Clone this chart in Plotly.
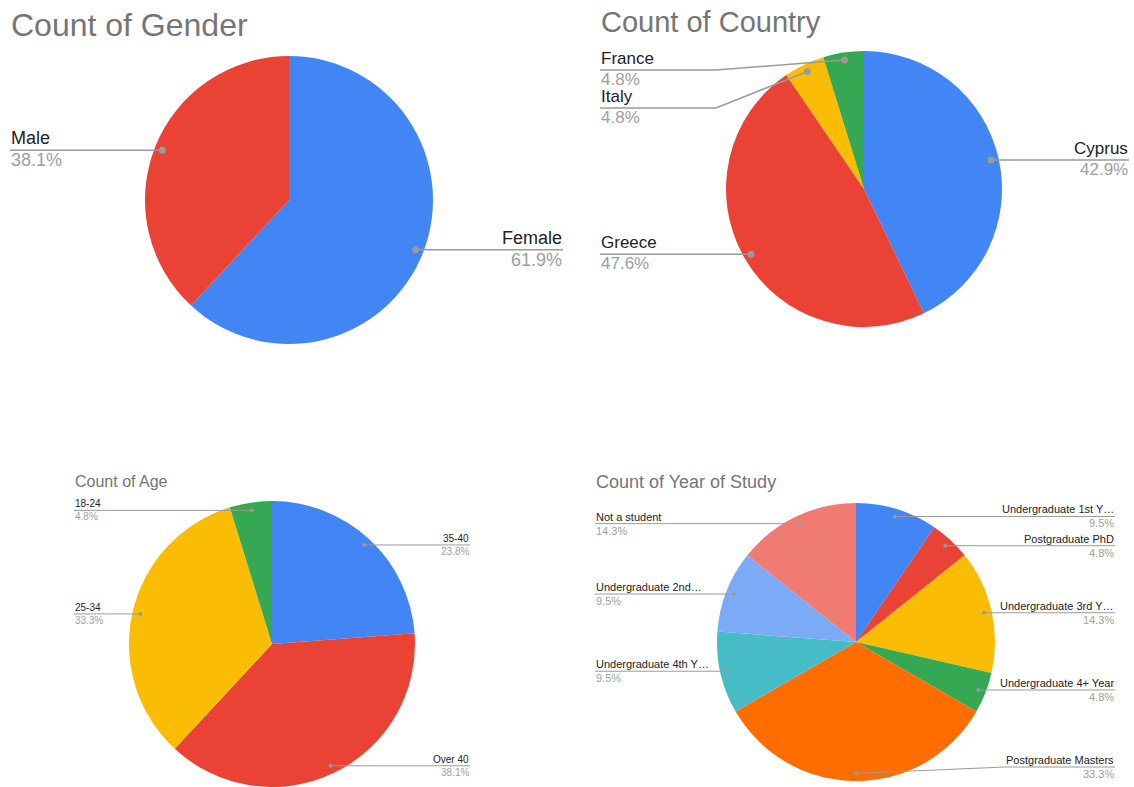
import math
import plotly.graph_objects as go

W, H = 1134, 787

# ---------------- data ----------------
gender_labels = ["Female", "Male"]
gender_values = [13, 8]

country_labels = ["Cyprus", "Greece", "Italy", "France"]
country_values = [9, 10, 1, 1]

age_labels = ["35-40", "Over 40", "25-34", "18-24"]
age_values = [5, 8, 7, 1]

year_labels = ["Undergraduate 1st Y…", "Postgraduate PhD", "Undergraduate 3rd Y…",
               "Undergraduate 4+ Year", "Postgraduate Masters", "Undergraduate 4th Y…",
               "Undergraduate 2nd…", "Not a student"]
year_values = [2, 1, 3, 1, 7, 2, 2, 3]

BLUE, RED, YELLOW, GREEN = "#4285F4", "#EA4335", "#FBBC04", "#34A853"
ORANGE, TEAL, LBLUE, SALMON = "#FF6D01", "#46BDC6", "#7BAAF7", "#F07B72"

FONT = "Arial, Liberation Sans, sans-serif"
TITLE_C = "#757575"
NAME_C = "#222222"
PCT_C = "#9e9e9e"
LINE_C = "#9a9a9a"

charts = [
    dict(title="Count of Gender", labels=gender_labels, values=gender_values,
         colors=[BLUE, RED], cx=289, cy=200, r=144, tx=9, ty=25, tsize=32,
         lsize=18, left=10, right=563, ymin=70, ymax=330, gap=40, dot=3.5, lw=1.5,
         off=1, poff=-1),
    dict(title="Count of Country", labels=country_labels, values=country_values,
         colors=[BLUE, RED, YELLOW, GREEN], cx=864, cy=189, r=138, tx=599, ty=22, tsize=29,
         lsize=17, left=600, right=1129, ymin=70, ymax=320, gap=38, dot=3.5, lw=1.5,
         off=1, poff=-1),
    dict(title="Count of Age", labels=age_labels, values=age_values,
         colors=[BLUE, RED, YELLOW, GREEN], cx=272, cy=644, r=143, tx=73, ty=481, tsize=16,
         lsize=10, left=74, right=470, ymin=508, ymax=767, gap=24, dot=2, lw=1,
         off=0, poff=0),
    dict(title="Count of Year of Study", labels=year_labels, values=year_values,
         colors=[BLUE, RED, YELLOW, GREEN, ORANGE, TEAL, LBLUE, SALMON],
         cx=856, cy=642, r=139, tx=594, ty=482, tsize=18,
         lsize=11, left=595, right=1115, ymin=510, ymax=767, gap=26, dot=2, lw=1,
         off=0, poff=0),
]

fig = go.Figure()
annotations = []
shapes = []


def place(items, gap, ymin, ymax):
    items.sort(key=lambda d: d["py"])
    prev = None
    for it in items:
        y = max(it["py"], ymin)
        if prev is not None:
            y = max(y, prev + gap)
        it["ly"] = y
        prev = y
    nxt = None
    for it in reversed(items):
        y = min(it["ly"], ymax)
        if nxt is not None:
            y = min(y, nxt - gap)
        it["ly"] = y
        nxt = y


for c in charts:
    cx, cy, r = c["cx"], c["cy"], c["r"]
    fig.add_trace(go.Pie(
        labels=c["labels"], values=c["values"], sort=False, direction="clockwise",
        rotation=0, textinfo="none", hoverinfo="label+percent",
        marker=dict(colors=c["colors"], line=dict(width=0)),
        domain=dict(x=[(cx - r) / W, (cx + r) / W],
                    y=[max(0, 1 - (cy + r) / H), min(1, 1 - (cy - r) / H)]),
        showlegend=False,
    ))
    annotations.append(dict(x=c["tx"], y=c["ty"], xref="x", yref="y", text=c["title"],
                            showarrow=False, xanchor="left", yanchor="middle",
                            font=dict(family=FONT, size=c["tsize"], color=TITLE_C)))
    total = sum(c["values"])
    cum = 0
    left_items, right_items = [], []
    d = 0.945 * r
    for lab, v in zip(c["labels"], c["values"]):
        mid = (cum + v / 2) / total * 2 * math.pi
        cum += v
        px = cx + d * math.sin(mid)
        py = cy - d * math.cos(mid)
        it = dict(lab=lab, pct=f"{v / total * 100:.1f}%", px=px, py=py)
        (right_items if math.sin(mid) > -1e-6 else left_items).append(it)
    for side, items in (("left", left_items), ("right", right_items)):
        place(items, c["gap"], c["ymin"], c["ymax"])
        for it in items:
            edge = c["left"] if side == "left" else c["right"]
            bend = cx - r - 10 if side == "left" else cx + r + 10
            ly = it["ly"]
            if abs(ly - it["py"]) < 0.5:
                path = f"M {it['px']},{ly} L {edge},{ly}"
            else:
                path = f"M {it['px']},{it['py']} L {bend},{ly} L {edge},{ly}"
            shapes.append(dict(type="path", path=path, xref="x", yref="y", layer="above",
                               line=dict(color=LINE_C, width=c["lw"])))
            dr = c["dot"]
            shapes.append(dict(type="circle", xref="x", yref="y", layer="above",
                               x0=it["px"] - dr, x1=it["px"] + dr,
                               y0=it["py"] - dr, y1=it["py"] + dr,
                               fillcolor=LINE_C, line=dict(width=0)))
            annotations.append(dict(x=edge, y=ly - c["off"], xref="x", yref="y", text=it["lab"],
                                    showarrow=False, xanchor=side, yanchor="bottom", borderpad=0,
                                    font=dict(family=FONT, size=c["lsize"], color=NAME_C)))
            annotations.append(dict(x=edge, y=ly + c["poff"], xref="x", yref="y", text=it["pct"],
                                    showarrow=False, xanchor=side, yanchor="top", borderpad=0,
                                    font=dict(family=FONT, size=c["lsize"], color=PCT_C)))

fig.update_layout(
    width=W, height=H, margin=dict(l=0, r=0, t=0, b=0),
    paper_bgcolor="white", plot_bgcolor="white",
    xaxis=dict(range=[0, W], visible=False, fixedrange=True),
    yaxis=dict(range=[H, 0], visible=False, fixedrange=True),
    annotations=annotations, shapes=shapes, showlegend=False,
)

fig.write_html("out.html", config={"displayModeBar": False},
               post_script="document.body.style.margin='0';document.body.style.overflow='hidden';")
